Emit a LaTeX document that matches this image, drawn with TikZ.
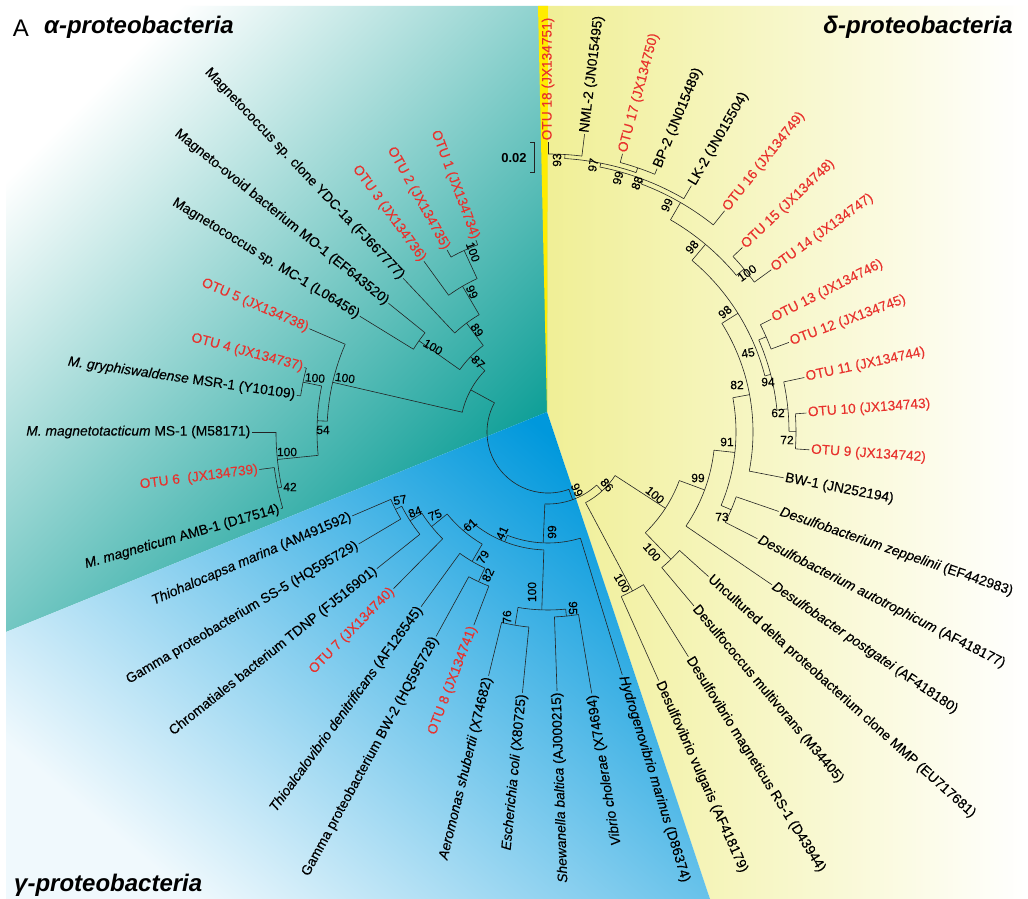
\documentclass[tikz,border=0pt]{standalone}
\usepackage{fontspec}
\setmainfont{Liberation Sans}
\newfontfamily\blkfont{Liberation Sans}[FakeBold=0.25]
\newfontfamily\redfont{Liberation Sans}[FakeBold=0.12]
\definecolor{otured}{RGB}{232,50,45}
\definecolor{tealA}{RGB}{0,153,145}
\definecolor{yelD}{RGB}{240,239,150}
\definecolor{blueG}{RGB}{0,152,220}
\definecolor{yelbright}{RGB}{255,236,0}
\definecolor{treec}{RGB}{35,35,35}
\newcommand\tbr[3]{\draw[tree] (#1:#2) -- (#1:#3);}
\newcommand\tarc[3]{\draw[tree] (#2:#1) arc[start angle=#2, end angle=#3, radius=#1];}
\begin{document}
\begin{tikzpicture}[x=1pt,y=-1pt,
  tree/.style={draw=treec, line width=0.6pt},
  leafR/.style={anchor=west, inner sep=1.5pt, font=\blkfont\fontsize{13.8}{14}\selectfont},
  leafL/.style={anchor=east, inner sep=1.5pt, font=\blkfont\fontsize{13.8}{14}\selectfont},
  otu/.style={text=otured, font=\redfont\fontsize{13.7}{14}\selectfont},
  bs/.style={inner sep=0pt, font=\blkfont\fontsize{12}{12}\selectfont},
  ttl/.style={inner sep=0pt, font=\fontsize{24}{24}\selectfont\bfseries\itshape}]
\useasboundingbox (0,0) rectangle (1028,899);
\fill[white] (0,0) rectangle (1028,899);
% sectors
\shade[left color=yelD, right color=white] (547,6) -- (1028,6) -- (1028,899) -- (710,899) -- (547,412) -- cycle;
\shade[top color=white, bottom color=tealA, shading angle=45] (6,6) -- (547,6) -- (547,412) -- (6,632) -- cycle;
\shade[top color=blueG, bottom color=blueG!6, shading angle=-40] (547,412) -- (710,899) -- (6,899) -- (6,632) -- cycle;
\fill[yelbright] (538,6) -- (548,6) -- (547,412) -- cycle;
% titles
\node[inner sep=0pt, font=\fontsize{24}{24}\selectfont] (tA) at (21,28) {A};
\node[ttl, anchor=west] (talpha) at (44,27) {α-proteobacteria};
\node[ttl, anchor=east] (tdelta) at (1013,27) {δ-proteobacteria};
\node[ttl, anchor=west] (tgamma) at (14,885) {γ-proteobacteria};
% scale bar
\draw[tree] (530,142) -- (534,142) -- (534,172) -- (530,172);
\node[inner sep=0pt, font=\fontsize{13}{13}\selectfont\bfseries] (scale) at (514,158) {0.02};
\begin{scope}[shift={(548,432)}]
\coordinate (C) at (0,0);
% root
\tarc{61}{70}{208.6}
% gamma+delta
\tbr{70}{61}{72} \tarc{72}{47.5}{92.5}
% gamma
\tbr{92.5}{72}{111} \tarc{111}{73}{111.5}
\tbr{73}{111}{254}
\tbr{111.5}{111}{118} \tarc{118}{92}{130.6}
\tbr{92}{118}{178} \tarc{178}{84.3}{99.7}
\tbr{84.3}{178}{185} \tarc{185}{80.5}{88} \tbr{80.5}{185}{265} \tbr{88}{185}{259}
\tbr{99.7}{178}{196} \tarc{196}{95.6}{103.7} \tbr{95.6}{196}{262} \tbr{103.7}{196}{251}
\tbr{130.6}{118}{130} \tarc{130}{120.4}{140.9}
\tbr{120.4}{130}{150} \tarc{150}{114.9}{126} \tbr{126}{150}{216}
\tbr{114.9}{150}{165} \tarc{165}{111}{118.7} \tbr{111}{165}{207} \tbr{118.7}{165}{233}
\tbr{140.9}{130}{150} \tarc{150}{134.6}{147.2} \tbr{134.6}{150}{220}
\tbr{147.2}{150}{164} \tarc{164}{141.4}{153.1} \tbr{141.4}{164}{219}
\tbr{153.1}{164}{171} \tarc{171}{149.4}{156.8} \tbr{149.4}{171}{220} \tbr{156.8}{171}{213}
% delta
\tbr{47.5}{72}{80} \tarc{80}{33}{62}
\tbr{62}{80}{180} \tarc{180}{58}{66} \tbr{58}{180}{265} \tbr{66}{180}{272}
\tbr{33}{80}{140} \tarc{140}{20.3}{46}
\tbr{46}{140}{177} \tarc{177}{42}{50} \tbr{42}{177}{216} \tbr{50}{177}{227}
\tbr{20.3}{140}{167} \tarc{167}{6.25}{34.3} \tbr{34.3}{167}{271}
\tbr{6.25}{167}{188} \tarc{188}{-10.5}{23}
\tbr{23}{188}{199} \tarc{199}{19}{27} \tbr{19}{199}{244} \tbr{27}{199}{235}
\tbr{-10.5}{188}{205} \tarc{205}{-32}{11} \tbr{11}{205}{240}
\tbr{-32}{205}{224} \tarc{224}{-50}{-14.5}
\tbr{-14.5}{224}{230} \tarc{230}{-23.6}{-5.5}
\tbr{-23.6}{230}{238} \tarc{238}{-26.8}{-20.4} \tbr{-26.8}{238}{250} \tbr{-20.4}{238}{257}
\tbr{-5.5}{230}{241} \tarc{241}{-12}{-0.15} \tbr{-12}{241}{262}
\tbr{-0.15}{241}{248} \tarc{248}{-4.2}{3.9} \tbr{-4.2}{248}{259} \tbr{3.9}{248}{262}
\tbr{-50}{224}{245} \tarc{245}{-60}{-39.75}
\tbr{-39.75}{245}{255} \tarc{255}{-43.5}{-36} \tbr{-43.5}{255}{268} \tbr{-36}{255}{276}
\tbr{-60}{245}{265} \tarc{265}{-69.35}{-51.4} \tbr{-51.4}{265}{283}
\tbr{-69.35}{265}{270} \tarc{270}{-78.9}{-59.8} \tbr{-59.8}{270}{285}
\tbr{-78.9}{270}{274} \tarc{274}{-86.5}{-71.25}
\tbr{-86.5}{274}{278} \tarc{278}{-90}{-83} \tbr{-90}{278}{290} \tbr{-83}{278}{300}
\tbr{-71.25}{274}{279} \tarc{279}{-75}{-67.5} \tbr{-75}{279}{288} \tbr{-67.5}{279}{285}
% alpha
\tbr{208.6}{61}{88} \tarc{88}{193}{224.2}
\tbr{193}{88}{221} \tarc{221}{182.8}{203.4} \tbr{203.4}{221}{260}
\tbr{182.8}{221}{231} \tarc{231}{174.2}{191.5}
\tbr{191.5}{231}{250} \tarc{250}{188.3}{194.8} \tbr{188.3}{250}{254} \tbr{194.8}{250}{252}
\tbr{174.2}{231}{272} \tarc{272}{168.3}{180} \tbr{180}{272}{296}
\tbr{168.3}{272}{276} \tarc{276}{164}{172.6} \tbr{164}{276}{278} \tbr{172.6}{276}{291}
\tbr{224.2}{88}{108} \tarc{108}{215.25}{233.2}
\tbr{215.25}{108}{158} \tarc{158}{211.6}{218.9} \tbr{211.6}{158}{221} \tbr{218.9}{158}{205}
\tbr{233.2}{108}{136} \tarc{136}{226.7}{239.6} \tbr{226.7}{136}{211}
\tbr{239.6}{136}{169} \tarc{169}{234}{245.2} \tbr{234}{169}{211}
\tbr{245.2}{169}{200} \tarc{200}{241}{249.4} \tbr{241}{200}{208} \tbr{249.4}{200}{205}
% leaf labels: delta
\node[leafR, otu, rotate=90] (l1) at (-90:290) {OTU 18 (JX134751)};
\node[leafR, rotate=83] (l2) at (-83:300) {NML-2 (JN015495)};
\node[leafR, otu, rotate=75] (l3) at (-75:288) {OTU 17 (JX134750)};
\node[leafR, rotate=67.5] (l4) at (-67.5:285) {BP-2 (JN015489)};
\node[leafR, rotate=59.8] (l5) at (-59.8:285) {LK-2 (JN015504)};
\node[leafR, otu, rotate=51.4] (l6) at (-51.4:283) {OTU 16 (JX134749)};
\node[leafR, otu, rotate=43.5] (l7) at (-43.5:268) {OTU 15 (JX134748)};
\node[leafR, otu, rotate=36] (l8) at (-36:276) {OTU 14 (JX134747)};
\node[leafR, otu, rotate=26.8] (l9) at (-26.8:250) {OTU 13 (JX134746)};
\node[leafR, otu, rotate=20.4] (l10) at (-20.4:257) {OTU 12 (JX134745)};
\node[leafR, otu, rotate=12] (l11) at (-12:262) {OTU 11 (JX134744)};
\node[leafR, otu, rotate=4.2] (l12) at (-4.2:259) {OTU 10 (JX134743)};
\node[leafR, otu, rotate=-3.9] (l13) at (3.9:262) {OTU 9 (JX134742)};
\node[leafR, rotate=-11] (l14) at (11:240) {BW-1 (JN252194)};
\node[leafR, rotate=-19] (l15) at (19:244) {\itshape Desulfobacterium zeppelinii \upshape(EF442983)};
\node[leafR, rotate=-27] (l16) at (27:235) {\itshape Desulfobacterium autotrophicum \upshape(AF418177)};
\node[leafR, rotate=-34.3] (l17) at (34.3:271) {\itshape Desulfobacter postgatei \upshape(AF418180)};
\node[leafR, rotate=-42] (l18) at (42:216) {Uncultured delta proteobacterium clone MMP (EU717681)};
\node[leafR, rotate=-50] (l19) at (50:227) {Desulfococcus multivorans (M34405)};
\node[leafR, rotate=-58] (l20) at (58:265) {Desulfovibrio magneticus RS-1 (D43944)};
\node[leafR, rotate=-66] (l21) at (66:272) {Desulfovibrio vulgaris (AF418179)};
% gamma
\node[leafR, rotate=-73] (l22) at (73:254) {\itshape Hydrogenovibrio marinus \upshape(D86374)};
\node[leafL, rotate=99.5] (l23) at (80.5:265) {\itshape Vibrio cholerae \upshape(X74694)};
\node[leafL, rotate=92] (l24) at (88:259) {\itshape Shewanella baltica \upshape(AJ000215)};
\node[leafL, rotate=84.4] (l25) at (95.6:262) {\itshape Escherichia coli \upshape(X80725)};
\node[leafL, rotate=76.3] (l26) at (103.7:251) {\itshape Aeromonas shubertii \upshape(X74682)};
\node[leafL, otu, rotate=69] (l27) at (111:207) {OTU 8 (JX134741)};
\node[leafL, rotate=61.3] (l28) at (118.7:233) {Gamma proteobacterium BW-2 (HQ595728)};
\node[leafL, rotate=54] (l29) at (126:216) {\itshape Thioalcalovibrio denitrificans \upshape(AF126545)};
\node[leafL, otu, rotate=45.4] (l30) at (134.6:220) {OTU 7 (JX134740)};
\node[leafL, rotate=38.6] (l31) at (141.4:219) {Chromatiales bacterium TDNP (FJ516901)};
\node[leafL, rotate=30.6] (l32) at (149.4:220) {Gamma proteobacterium SS-5 (HQ595729)};
\node[leafL, rotate=23.2] (l33) at (156.8:213) {\itshape Thiohalocapsa marina \upshape(AM491592)};
% alpha
\node[leafL, rotate=16] (l34) at (164:278) {\itshape M. magneticum \upshape AMB-1 (D17514)};
\node[leafL, otu, rotate=7.4] (l35) at (172.6:291) {OTU 6 \ (JX134739)};
\node[leafL, rotate=0] (l36) at (180:296) {\itshape M. magnetotacticum \upshape MS-1 (M58171)};
\node[leafL, rotate=-8.3] (l37) at (188.3:254) {\itshape M. gryphiswaldense \upshape MSR-1 (Y10109)};
\node[leafL, otu, rotate=-14.8] (l38) at (194.8:252) {OTU 4 (JX134737)};
\node[leafL, otu, rotate=-23.4] (l39) at (203.4:260) {OTU 5 (JX134738)};
\node[leafL, rotate=-31.6] (l40) at (211.6:221) {Magnetococcus sp. MC-1 (L06456)};
\node[leafL, rotate=-38.9] (l41) at (218.9:205) {Magneto-ovoid bacterium MO-1 (EF643520)};
\node[leafL, rotate=-46.7] (l42) at (226.7:211) {Magnetococcus sp. clone YDC-1a (FJ667777)};
\node[leafL, otu, rotate=-54] (l43) at (234:211) {OTU 3 (JX134736)};
\node[leafL, otu, rotate=-61] (l44) at (241:208) {OTU 2 (JX134735)};
\node[leafL, otu, rotate=-69.4] (l45) at (249.4:205) {OTU 1 (JX134734)};
\end{scope}
% bootstrap values: alpha
\node[bs, rotate=-70] (b1) at (473,252) {100};
\node[bs, rotate=-65] (b2) at (472,292) {99};
\node[bs, rotate=-55] (b3) at (477,330) {89};
\node[bs, rotate=-45] (b4) at (478,362) {87};
\node[bs, rotate=-30] (b5) at (433,347) {100};
\node[bs, rotate=-8] (b6) at (345,378) {100};
\node[bs, rotate=-5] (b7) at (315,378) {100};
\node[bs] (b8) at (323,430) {54};
\node[bs] (b9) at (287,452) {100};
\node[bs] (b10) at (290,487) {42};
% gamma
\node[bs, rotate=10] (b11) at (400,500) {57};
\node[bs, rotate=20] (b12) at (415,512) {84};
\node[bs, rotate=20] (b13) at (435,515) {75};
\node[bs, rotate=40] (b14) at (470,525) {61};
\node[bs, rotate=65] (b15) at (502,533) {41};
\node[bs, rotate=90] (b16) at (552,532) {99};
\node[bs, rotate=60] (b17) at (483,557) {79};
\node[bs, rotate=65] (b18) at (488,575) {82};
\node[bs, rotate=90] (b19) at (532,592) {100};
\node[bs, rotate=90] (b20) at (507,617) {76};
\node[bs, rotate=-90] (b21) at (573,608) {95};
\node[bs, rotate=-65] (b22) at (577,490) {99};
% delta
\node[bs, rotate=-50] (b23) at (607,485) {86};
\node[bs, rotate=-40] (b24) at (655,495) {100};
\node[bs, rotate=-50] (b25) at (652,552) {100};
\node[bs, rotate=-60] (b26) at (622,583) {100};
\node[bs] (b27) at (698,478) {99};
\node[bs] (b28) at (722,517) {73};
\node[bs] (b29) at (727,442) {91};
\node[bs] (b30) at (737,385) {82};
\node[bs, rotate=10] (b31) at (748,353) {45};
\node[bs, rotate=40] (b32) at (725,312) {98};
\node[bs, rotate=50] (b33) at (692,247) {98};
\node[bs] (b34) at (768,382) {94};
\node[bs] (b35) at (778,413) {62};
\node[bs] (b36) at (787,440) {72};
\node[bs, rotate=35] (b37) at (747,273) {100};
\node[bs, rotate=65] (b38) at (667,205) {99};
\node[bs, rotate=70] (b39) at (637,183) {88};
\node[bs, rotate=75] (b40) at (618,178) {99};
\node[bs, rotate=80] (b41) at (593,165) {97};
\node[bs, rotate=90] (b42) at (557,160) {93};
\end{tikzpicture}
\end{document}
